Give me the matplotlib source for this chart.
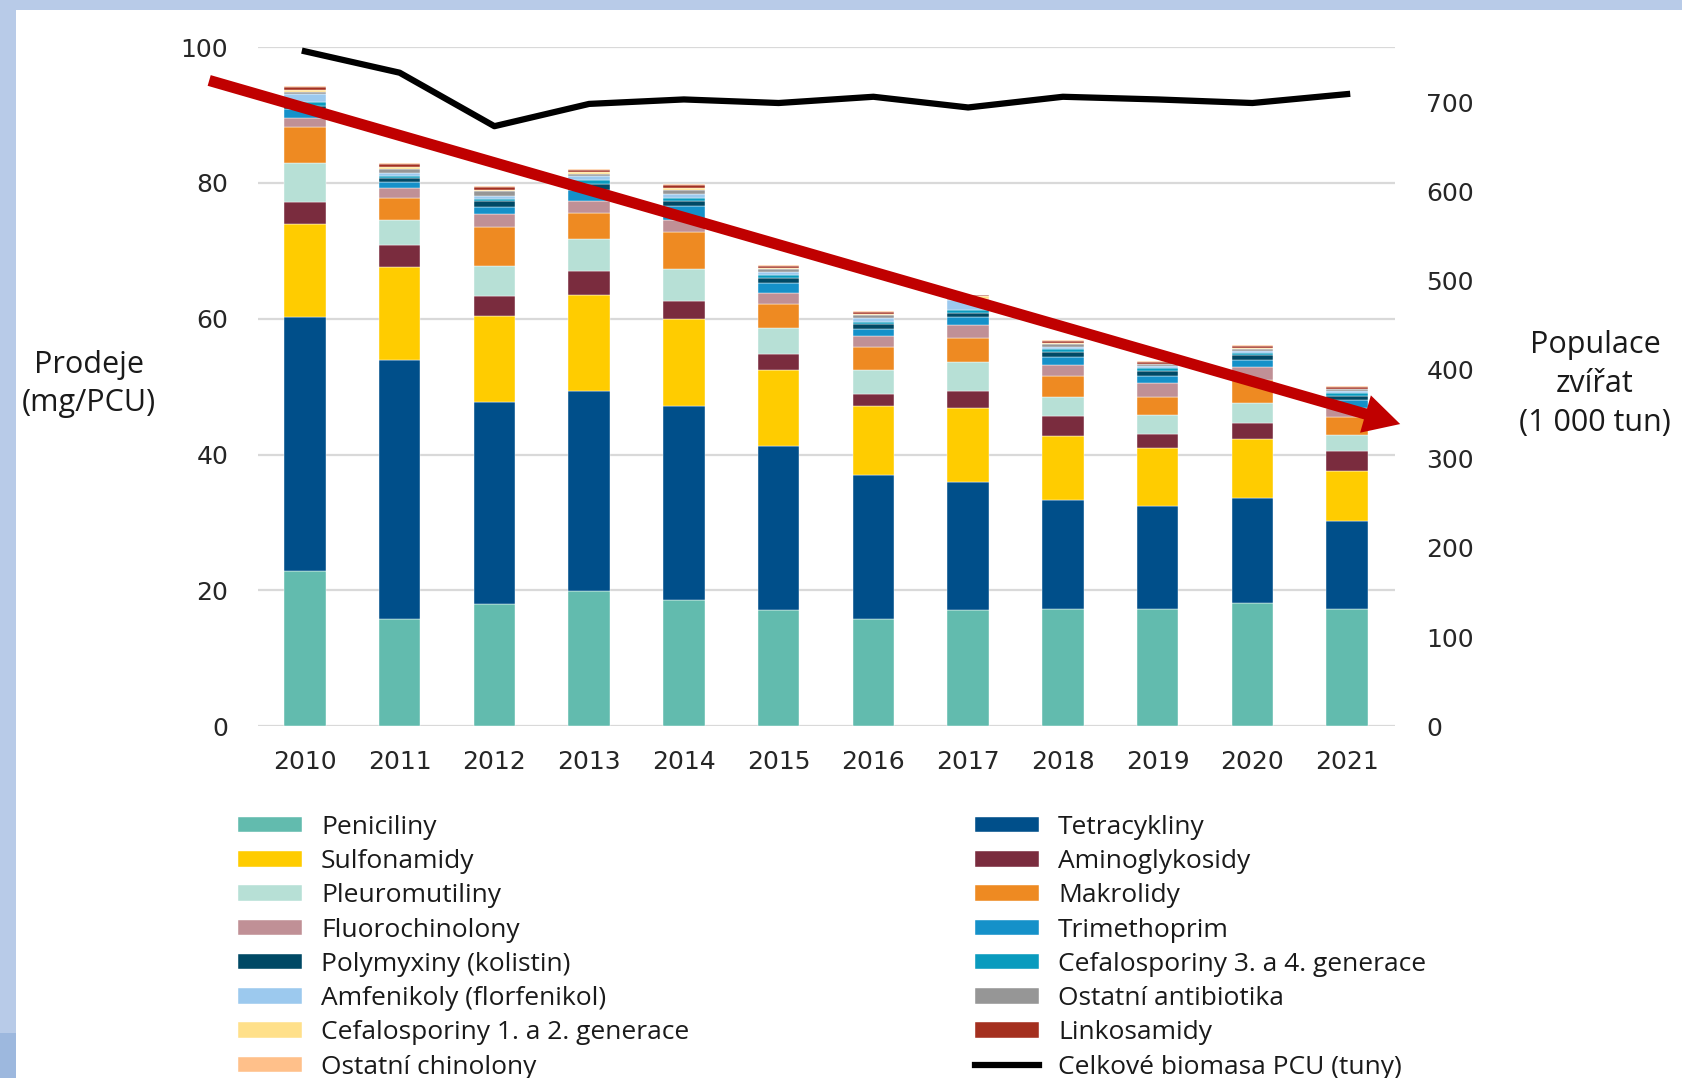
import matplotlib
matplotlib.use("Agg")
import matplotlib.pyplot as plt
from matplotlib.patches import Rectangle, Patch
from matplotlib.lines import Line2D
import numpy as np

plt.rcParams['font.family'] = ['Open Sans', 'DejaVu Sans']

years = ['2010', '2011', '2012', '2013', '2014', '2015', '2016', '2017', '2018', '2019', '2020', '2021']

peniciliny      = [22.9, 15.8, 18.0, 19.9, 18.6, 17.1, 15.8, 17.1, 17.2, 17.2, 18.2, 17.2]
tetracykliny    = [37.3, 38.1, 29.7, 29.5, 28.5, 24.1, 21.2, 18.8, 16.1, 15.3, 15.4, 13.0]
sulfonamidy     = [13.7, 13.7, 12.7, 14.1, 12.9, 11.3, 10.2, 10.9, 9.5, 8.4, 8.7, 7.4]
aminoglykosidy  = [3.3, 3.3, 2.9, 3.5, 2.6, 2.3, 1.7, 2.6, 2.9, 2.2, 2.3, 2.9]
pleuromutiliny  = [5.8, 3.7, 4.5, 4.7, 4.7, 3.9, 3.5, 4.3, 2.8, 2.8, 3.0, 2.4]
makrolidy       = [5.2, 3.2, 5.7, 3.9, 5.5, 3.5, 3.5, 3.5, 3.1, 2.6, 3.4, 2.6]
fluorochinolony = [1.3, 1.5, 1.9, 1.8, 1.8, 1.6, 1.5, 1.9, 1.6, 2.0, 1.9, 1.3]
trimethoprim    = [1.35, 0.9, 1.1, 1.5, 2.0, 1.4, 1.1, 1.2, 1.2, 1.1, 1.0, 1.3]
polymyxiny      = [0.55, 0.5, 0.8, 1.0, 0.8, 0.8, 0.7, 0.6, 0.7, 0.7, 0.7, 0.6]
cefalo34        = [0.6, 0.3, 0.4, 0.5, 0.4, 0.5, 0.4, 0.4, 0.4, 0.4, 0.4, 0.3]
amfenikoly      = [1.1, 0.5, 0.4, 0.6, 0.6, 0.4, 0.5, 1.5, 0.4, 0.3, 0.3, 0.3]
ostatni_ab      = [0.3, 0.6, 0.7, 0.3, 0.5, 0.4, 0.4, 0.1, 0.4, 0.3, 0.3, 0.3]
cefalo12        = [0.3, 0.2, 0.2, 0.3, 0.3, 0.15, 0.15, 0.45, 0.15, 0.1, 0.1, 0.1]
linkosamidy     = [0.4, 0.45, 0.45, 0.35, 0.5, 0.3, 0.4, 0.1, 0.35, 0.3, 0.3, 0.3]
ostatni_chin    = [0.15, 0.15, 0.15, 0.15, 0.2, 0.15, 0.15, 0.05, 0.1, 0.1, 0.1, 0.1]

biomasa = [757, 733, 673, 698, 703, 699, 706, 694, 706, 703, 699, 709]

series = [
    ('Peniciliny', peniciliny, '#62BBAE'),
    ('Tetracykliny', tetracykliny, '#004F8A'),
    ('Sulfonamidy', sulfonamidy, '#FFCC00'),
    ('Aminoglykosidy', aminoglykosidy, '#7A2C3E'),
    ('Pleuromutiliny', pleuromutiliny, '#B7E0D6'),
    ('Makrolidy', makrolidy, '#EE8A22'),
    ('Fluorochinolony', fluorochinolony, '#C09096'),
    ('Trimethoprim', trimethoprim, '#1591C9'),
    ('Polymyxiny (kolistin)', polymyxiny, '#004965'),
    ('Cefalosporiny 3. a 4. generace', cefalo34, '#0A9BBE'),
    ('Amfenikoly (florfenikol)', amfenikoly, '#9CC9EE'),
    ('Ostatní antibiotika', ostatni_ab, '#969696'),
    ('Cefalosporiny 1. a 2. generace', cefalo12, '#FFE08A'),
    ('Linkosamidy', linkosamidy, '#A4301F'),
    ('Ostatní chinolony', ostatni_chin, '#FFC08A'),
]
line_label = 'Celkové biomasa PCU (tuny)'

W, H = 1682, 1078
fig = plt.figure(figsize=(W / 100, H / 100), dpi=100)
fig.patch.set_facecolor('white')

ax_l, ax_r, ax_b, ax_t = 257.5, 1394.5, 726.2, 47.2
ax = fig.add_axes([ax_l / W, 1 - ax_b / H, (ax_r - ax_l) / W, (ax_b - ax_t) / H])

x = np.arange(len(years))
bottom = np.zeros(len(years))
handles = {}
for name, vals, col in series:
    v = np.array(vals)
    ax.bar(x, v, width=0.44, bottom=bottom, color=col, edgecolor='white',
           linewidth=0.3, zorder=2)
    handles[name] = Patch(facecolor=col, edgecolor='white', linewidth=0.3)
    bottom += v

ax.set_xlim(-0.5, 11.5)
ax.set_ylim(0, 100)
ax.set_yticks(range(0, 101, 20))
ax.grid(axis='y', color='#D9D9D9', linewidth=1.6, zorder=0)
ax.set_axisbelow(True)
for s in ax.spines.values():
    s.set_visible(False)
ax.set_xticks(x)
ax.set_xticklabels(years)
ax.tick_params(axis='both', length=0, colors='#262626')
ax.tick_params(axis='y', pad=21)
ax.tick_params(axis='x', pad=17)
for lab in ax.get_xticklabels() + ax.get_yticklabels():
    lab.set_fontfamily('DejaVu Sans')
    lab.set_fontsize(18)

ax2 = ax.twinx()
ax2.set_ylim(0, 761.6)
ax2.set_yticks(range(0, 701, 100))
for s in ax2.spines.values():
    s.set_visible(False)
ax2.tick_params(axis='y', length=0, colors='#262626', pad=23)
for lab in ax2.get_yticklabels():
    lab.set_fontfamily('DejaVu Sans')
    lab.set_fontsize(18)
ax2.plot(x, biomasa, color='black', linewidth=4.5, zorder=3, solid_joinstyle='round')
handles[line_label] = Line2D([0], [0], color='black', linewidth=4.5)

# trend arrow
ax2.annotate('', xy=(11.56, 44.5), xycoords=ax.transData,
             xytext=(-1.01, 95.1), textcoords=ax.transData,
             arrowprops=dict(width=8, headwidth=28, headlength=26, color='#C00000', lw=0),
             annotation_clip=False, zorder=5)

fig.text(89 / W, 1 - 384 / H, 'Prodeje\n(mg/PCU)', ha='center', va='center',
         fontsize=22, color='#1a1a1a', linespacing=1.38)
fig.text(1595 / W, 1 - 384 / H, 'Populace\nzvířat\n(1 000 tun)', ha='center', va='center',
         fontsize=22, color='#1a1a1a', linespacing=1.4)

col1 = ['Peniciliny', 'Sulfonamidy', 'Pleuromutiliny', 'Fluorochinolony',
        'Polymyxiny (kolistin)', 'Amfenikoly (florfenikol)',
        'Cefalosporiny 1. a 2. generace', 'Ostatní chinolony']
col2 = ['Tetracykliny', 'Aminoglykosidy', 'Makrolidy', 'Trimethoprim',
        'Cefalosporiny 3. a 4. generace', 'Ostatní antibiotika', 'Linkosamidy', line_label]

leg_kw = dict(loc='upper left', frameon=False, fontsize=19, handlelength=2.42,
              handleheight=0.53, handletextpad=0.73, labelspacing=0.35,
              borderpad=0, borderaxespad=0, labelcolor='#1a1a1a')
fig.legend([handles[n] for n in col1], col1, bbox_to_anchor=(238 / W, 1 - 815 / H), **leg_kw)
fig.legend([handles[n] for n in col2], col2, bbox_to_anchor=(975 / W, 1 - 815 / H), **leg_kw)

# frame decoration
fig.patches.append(Rectangle((0, 0), 16 / W, 1, transform=fig.transFigure,
                             facecolor='#B8CBE8', edgecolor='none', zorder=10))
fig.patches.append(Rectangle((0, 0), 16 / W, (H - 1033) / H, transform=fig.transFigure,
                             facecolor='#9DB8DE', edgecolor='none', zorder=11))
fig.patches.append(Rectangle((0, 1 - 10 / H), 1, 10 / H, transform=fig.transFigure,
                             facecolor='#B8CBE8', edgecolor='none', zorder=10))

fig.savefig('out.png', dpi=100)
